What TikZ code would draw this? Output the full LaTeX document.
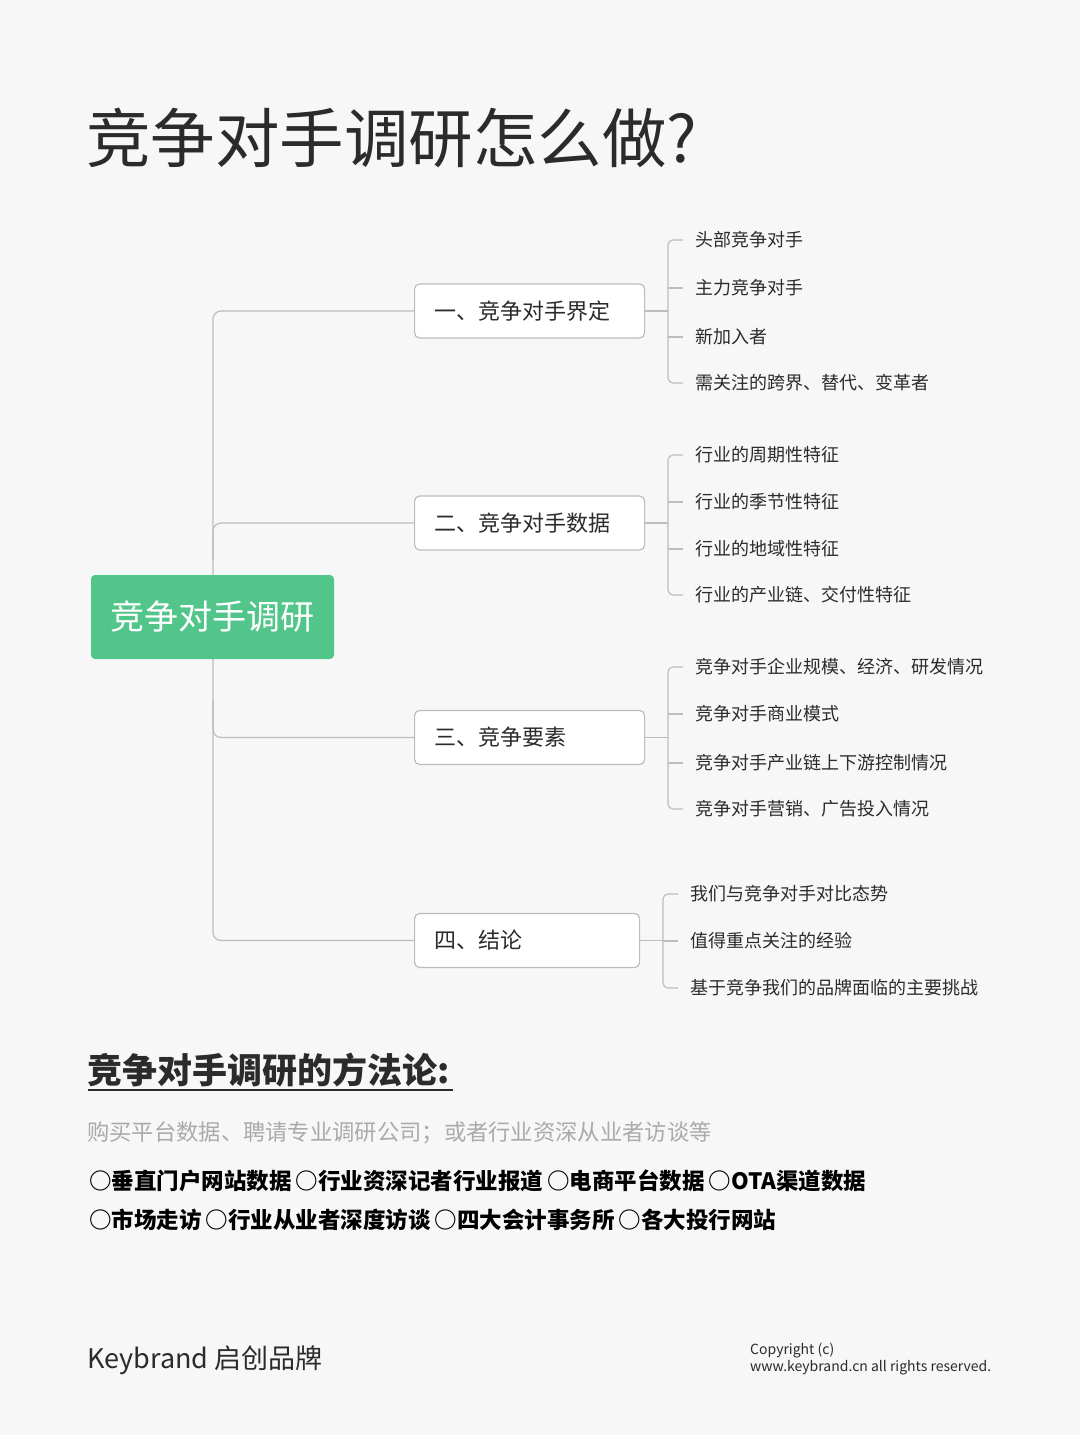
\documentclass[tikz,border=0pt]{standalone}
\usepackage{fontspec}
\setmainfont{Noto Sans CJK SC}
\definecolor{bg}{HTML}{F7F7F7}
\definecolor{ln}{HTML}{BDBDBD}
\definecolor{grn}{HTML}{52C58A}
\definecolor{txt}{HTML}{2B2B2B}
\definecolor{gtx}{HTML}{AAAAAA}
\tikzset{
 conn/.style={draw=ln,line width=1.2pt,rounded corners=8pt},
 brk/.style={draw=ln,line width=1.2pt,rounded corners=5pt},
 branch/.style={draw=ln,line width=1.2pt,fill=white,rounded corners=5pt,anchor=west,minimum height=54pt,text=txt,font=\fontsize{22}{24}\selectfont,inner xsep=16pt,text width=190pt,align=left},
 leaf/.style={anchor=west,text=txt,font=\fontsize{18}{20}\selectfont,inner sep=0pt},
 rootst/.style={fill=grn,rounded corners=4pt,minimum width=243pt,minimum height=84pt,text=white,font=\fontsize{34}{36}\selectfont},
}
\begin{document}
\begin{tikzpicture}[x=1pt,y=-1pt]
\fill[bg] (0,0) rectangle (1080,1435);
\useasboundingbox (0,0) rectangle (1080,1435);
\node[anchor=west,text=txt,font=\fontsize{64.5}{70}\selectfont,inner sep=0pt] (title) at (86,138) {竞争对手调研怎么做?};
\coordinate (t1) at (213,311);
\coordinate (t4) at (213,940.5);
\coordinate (t2) at (213,523);
\coordinate (t3) at (213,737.5);
\draw[conn] (414,311) -- (t1) -- (t4) -- (414,940.5);
\draw[conn] (414,523) -- (t2) -- (213,560);
\draw[conn] (414,737.5) -- (t3) -- (213,700);
\node[rootst] (root) at (212.5,617) {竞争对手调研};
\node[branch,minimum width=230pt] (b1) at (414,311) {一、竞争对手界定};
\node[branch,minimum width=230pt] (b2) at (414,523) {二、竞争对手数据};
\node[branch,minimum width=230pt] (b3) at (414,737.5) {三、竞争要素};
\node[branch,minimum width=225pt,text width=185pt] (b4) at (414,940.5) {四、结论};
% leaves
\node[leaf] (a1) at (695,240) {头部竞争对手};
\node[leaf] (a2) at (695,288) {主力竞争对手};
\node[leaf] (a3) at (695,337) {新加入者};
\node[leaf] (a4) at (695,383) {需关注的跨界、替代、变革者};
\node[leaf] (c1) at (695,455) {行业的周期性特征};
\node[leaf] (c2) at (695,502) {行业的季节性特征};
\node[leaf] (c3) at (695,549) {行业的地域性特征};
\node[leaf] (c4) at (695,595) {行业的产业链、交付性特征};
\node[leaf] (d1) at (695,667) {竞争对手企业规模、经济、研发情况};
\node[leaf] (d2) at (695,714) {竞争对手商业模式};
\node[leaf] (d3) at (695,763) {竞争对手产业链上下游控制情况};
\node[leaf] (d4) at (695,809) {竞争对手营销、广告投入情况};
\node[leaf] (e1) at (690,894) {我们与竞争对手对比态势};
\node[leaf] (e2) at (690,941) {值得重点关注的经验};
\node[leaf] (e3) at (690,988) {基于竞争我们的品牌面临的主要挑战};
% brackets
\draw[brk] (683,240) -- (668,240) -- (668,383) -- (683,383);
\draw[brk] (683,288) -- (668,288) (683,337) -- (668,337) (b1.east) -- (668,311);
\draw[brk] (683,455) -- (668,455) -- (668,595) -- (683,595);
\draw[brk] (683,502) -- (668,502) (683,549) -- (668,549) (b2.east) -- (668,523);
\draw[brk] (683,667) -- (668,667) -- (668,809) -- (683,809);
\draw[brk] (683,714) -- (668,714) (683,763) -- (668,763) (b3.east) -- (668,737.5);
\draw[brk] (678,894) -- (663,894) -- (663,988) -- (678,988);
\draw[brk] (678,941) -- (663,941) (b4.east) -- (663,940.5);
% methodology
\node[anchor=west,text=txt,font=\fontsize{35}{37}\selectfont\bfseries,inner sep=0pt] (mh) at (87,1070) {竞争对手调研的方法论:};
\draw[txt,line width=1.5pt] (88,1090) -- (453,1090);
\node[anchor=west,text=gtx,font=\fontsize{22.3}{24}\selectfont,inner sep=0pt] (mg) at (87,1133) {购买平台数据、聘请专业调研公司；或者行业资深从业者访谈等};
\node[anchor=west,text=black,font=\fontsize{22.5}{24}\selectfont\bfseries,inner sep=0pt] (m1) at (89,1181) {○垂直门户网站数据\hspace{4pt}○行业资深记者行业报道\hspace{4pt}○电商平台数据\hspace{4pt}○OTA渠道数据};
\node[anchor=west,text=black,font=\fontsize{22.5}{24}\selectfont\bfseries,inner sep=0pt] (m2) at (89,1220) {○市场走访\hspace{4pt}○行业从业者深度访谈\hspace{4pt}○四大会计事务所\hspace{4pt}○各大投行网站};
% footer
\node[anchor=west,text=txt,font=\fontsize{27}{30}\selectfont,inner sep=0pt] (kb) at (87,1360) {Keybrand 启创品牌};
\node[anchor=north west,align=left,text=txt,font=\fontsize{14}{17}\selectfont,inner sep=0pt] (cp) at (750,1343) {Copyright (c)\\www.keybrand.cn all rights reserved.};
\end{tikzpicture}
\end{document}
